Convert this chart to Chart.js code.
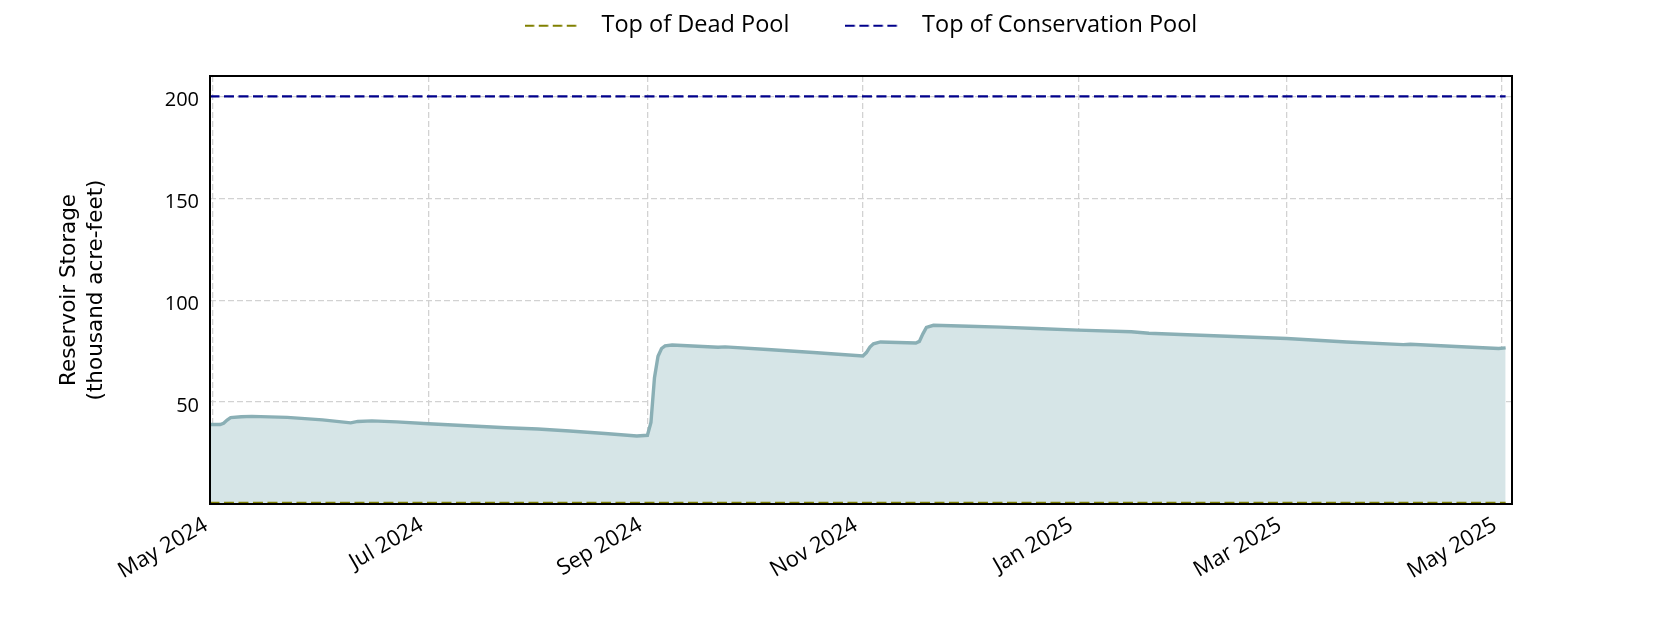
<!DOCTYPE html>
<html>
<head>
<meta charset="utf-8">
<script src="https://cdn.jsdelivr.net/npm/chart.js@4.4.1/dist/chart.umd.min.js"></script>
<style>
html, body { margin: 0; padding: 0; background: #ffffff; }
#wrap { width: 1680px; height: 630px; }
canvas { display: block; }
</style>
</head>
<body>
<div id="wrap"><canvas id="chart" width="1680" height="630"></canvas></div>
<script>
// ---------------- data ----------------
const storageDates = [
  '2024-04-30','2024-05-03','2024-05-04','2024-05-05','2024-05-06','2024-05-09','2024-05-12',
  '2024-05-22','2024-06-01','2024-06-09','2024-06-11','2024-06-15','2024-06-22','2024-07-01',
  '2024-07-12','2024-07-23','2024-08-01','2024-08-10','2024-08-20','2024-08-29','2024-09-01',
  '2024-09-02','2024-09-03','2024-09-04','2024-09-05','2024-09-06','2024-09-08','2024-09-21',
  '2024-09-23','2024-10-05','2024-10-18','2024-10-25','2024-11-01','2024-11-02','2024-11-03',
  '2024-11-04','2024-11-06','2024-11-16','2024-11-17','2024-11-18','2024-11-19','2024-11-21',
  '2024-12-01','2024-12-10','2024-12-20','2025-01-01','2025-01-16','2025-01-21','2025-01-30',
  '2025-02-14','2025-03-01','2025-03-18','2025-04-03','2025-04-05','2025-04-18','2025-04-30',
  '2025-05-02'
];
const storageValues = [
  39.0, 39.0, 39.6, 41.2, 42.4, 42.8, 43.0,
  42.5, 41.3, 39.8, 40.5, 40.8, 40.3, 39.4,
  38.4, 37.4, 36.8, 35.8, 34.6, 33.4, 33.7,
  40.0, 62.0, 72.5, 76.3, 77.6, 78.0, 76.9,
  77.1, 75.8, 74.3, 73.5, 72.6, 74.3, 77.0,
  78.6, 79.5, 79.0, 79.8, 83.5, 86.6, 87.7,
  87.2, 86.8, 86.1, 85.3, 84.5, 83.8, 83.2,
  82.2, 81.2, 79.5, 78.2, 78.4, 77.3, 76.3,
  76.6
];
const deadPoolLevel = 0.6;
const conservationPoolLevel = 200;
const seriesLabels = ['Top of Dead Pool', 'Top of Conservation Pool'];
const monthTickDates = ['2024-05-01','2024-07-01','2024-09-01','2024-11-01','2025-01-01','2025-03-01','2025-05-01'];
const monthTickLabels = ['May 2024','Jul 2024','Sep 2024','Nov 2024','Jan 2025','Mar 2025','May 2025'];
const yTickValues = [0, 50, 100, 150, 200];
const yAxisTitle = ['Reservoir Storage', '(thousand acre-feet)'];

// ---------------- helpers ----------------
const ORIGIN = Date.UTC(2024, 4, 1);
const dayOf = s => (Date.parse(s + 'T00:00:00Z') - ORIGIN) / 86400000;
const storagePoints = storageDates.map((d, i) => ({ x: dayOf(d), y: storageValues[i] }));
const firstDay = dayOf(storageDates[0]);
const lastDay = dayOf(storageDates[storageDates.length - 1]);
const monthTickDays = monthTickDates.map(dayOf);

const DASH = [10, 4.5];
const COLORS = { dead: '#808000', cons: '#00008b', line: '#8aafb5', fill: '#d6e5e7', grid: '#d2d2d2' };

function makeMarker(color) {
  const c = document.createElement('canvas');
  c.width = 65; c.height = 6;
  const g = c.getContext('2d');
  g.strokeStyle = color; g.lineWidth = 2.2;
  g.setLineDash([9.5, 4.5]);
  g.beginPath(); g.moveTo(0, 3); g.lineTo(52, 3); g.stroke();
  return c;
}
const markers = [makeMarker(COLORS.dead), makeMarker(COLORS.cons)];

const TICK_FONT = { family: "'Open Sans'", size: 20 };

const frameAndLegendPlugin = {
  id: 'frameAndLegend',
  beforeLayout(chart) {
    const lg = chart.legend;
    if (lg && !lg._fixedHeight) {
      const orig = lg.fit;
      lg.fit = function () { orig.call(this); this.height = 118; };
      lg._fixedHeight = true;
    }
  },
  afterDatasetsDraw(chart) {
    const a = chart.chartArea, ctx = chart.ctx;
    ctx.save();
    ctx.strokeStyle = '#000';
    ctx.lineWidth = 2;
    ctx.setLineDash([]);
    ctx.strokeRect(a.left, a.top, a.right - a.left, a.bottom - a.top);
    ctx.restore();
  }
};

new Chart(document.getElementById('chart'), {
  type: 'line',
  data: {
    datasets: [
      {
        label: seriesLabels[0],
        data: [{ x: firstDay, y: deadPoolLevel }, { x: lastDay, y: deadPoolLevel }],
        borderColor: COLORS.dead, borderWidth: 2.2, borderDash: DASH,
        pointRadius: 0, fill: false
      },
      {
        label: seriesLabels[1],
        data: [{ x: firstDay, y: conservationPoolLevel }, { x: lastDay, y: conservationPoolLevel }],
        borderColor: COLORS.cons, borderWidth: 2.2, borderDash: DASH,
        pointRadius: 0, fill: false
      },
      {
        label: 'Storage',
        data: storagePoints,
        borderColor: COLORS.line, borderWidth: 3.4,
        backgroundColor: COLORS.fill,
        fill: 'origin', pointRadius: 0, tension: 0
      }
    ]
  },
  options: {
    responsive: false,
    animation: false,
    devicePixelRatio: 1,
    layout: { padding: { left: 0, right: 168, top: -42, bottom: 0 } },
    plugins: {
      tooltip: { enabled: false },
      legend: {
        display: true,
        position: 'top',
        fullSize: false,
        labels: {
          usePointStyle: true,
          pointStyleWidth: 65,
          padding: 56,
          color: '#000',
          font: { family: "'Open Sans'", size: 23.5 },
          generateLabels: chart => seriesLabels.map((t, i) => ({
            text: t, datasetIndex: i, hidden: false,
            pointStyle: markers[i], lineWidth: 0,
            fillStyle: 'rgba(0,0,0,0)', strokeStyle: 'rgba(0,0,0,0)', fontColor: '#000'
          }))
        }
      }
    },
    scales: {
      x: {
        type: 'linear',
        min: -0.85,
        max: 367.8,
        afterBuildTicks: scale => { scale.ticks = monthTickDays.map(v => ({ value: v })); },
        afterFit: scale => { scale.height = 126; },
        ticks: {
          autoSkip: false,
          minRotation: 30, maxRotation: 30,
          padding: 8,
          labelOffset: -7,
          color: '#000',
          font: { family: "'Open Sans'", size: 22 },
          callback: v => { const i = monthTickDays.indexOf(v); return i >= 0 ? monthTickLabels[i] : ''; }
        },
        grid: { color: COLORS.grid, lineWidth: 1.3, drawTicks: false },
        border: { display: false, dash: [6, 3] }
      },
      y: {
        type: 'linear',
        min: 0,
        max: 210,
        afterBuildTicks: scale => { scale.ticks = yTickValues.map(v => ({ value: v })); },
        afterFit: scale => { scale.width = 210; },
        ticks: {
          padding: 11,
          labelOffset: 4,
          color: '#000',
          font: TICK_FONT,
          callback: v => (v === 0 ? '' : String(v))
        },
        grid: { color: COLORS.grid, lineWidth: 1.3, drawTicks: false },
        border: { display: false, dash: [6, 3] },
        title: {
          display: true,
          text: yAxisTitle,
          color: '#000',
          font: { family: "'DejaVu Sans'", size: 21.5, lineHeight: 1.25 },
          padding: { top: 56, bottom: 0 }
        }
      }
    }
  },
  plugins: [frameAndLegendPlugin]
});
</script>
</body>
</html>
